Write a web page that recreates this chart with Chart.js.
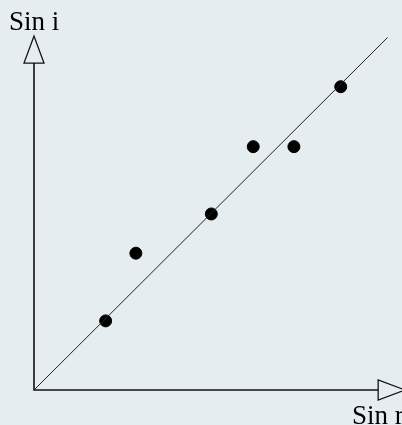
<!DOCTYPE html>
<html>
<head>
<meta charset="utf-8">
<script src="https://cdn.jsdelivr.net/npm/chart.js@4/dist/chart.umd.min.js"></script>
<style>
  html, body { margin: 0; padding: 0; background: #e6edf0; }
  #wrap { width: 402px; height: 425px; position: relative; }
</style>
</head>
<body>
<div id="wrap"><canvas id="c"></canvas></div>
<script>
// Measured pairs: sin r (horizontal) against sin i (vertical)
const sinR = [0.199, 0.283, 0.4925, 0.609, 0.722, 0.852];
const sinI = [0.192, 0.38, 0.489, 0.676, 0.676, 0.8425];

// Best-fit line through the origin
const fitX = [0, 0.982];
const fitY = [0, 0.979];

// Axis titles
const xTitle = 'Sin r';
const yTitle = 'Sin i';

// Where the axis arrows sit, in data units
const yArrowBase = 0.908, yArrowTip = 0.983;
const xArrowBase = 0.956, xArrowTip = 1.031;

const points = sinR.map((x, i) => ({ x, y: sinI[i] }));
const fitLine = fitX.map((x, i) => ({ x, y: fitY[i] }));

const axesPlugin = {
  id: 'arrowAxes',
  beforeDatasetsDraw(chart) {
    const { ctx, scales: { x, y } } = chart;
    const ox = x.getPixelForValue(0), oy = y.getPixelForValue(0);
    const yb = y.getPixelForValue(yArrowBase), yt = y.getPixelForValue(yArrowTip);
    const xb = x.getPixelForValue(xArrowBase), xt = x.getPixelForValue(xArrowTip);
    const half = 10;
    ctx.save();
    ctx.strokeStyle = '#111';
    ctx.lineWidth = 1.6;
    ctx.beginPath();
    ctx.moveTo(ox, yb);
    ctx.lineTo(ox, oy);
    ctx.lineTo(xb, oy);
    ctx.stroke();
    ctx.lineWidth = 1.3;
    ctx.lineJoin = 'miter';
    // vertical arrow head (open)
    ctx.beginPath();
    ctx.moveTo(ox - half, yb);
    ctx.lineTo(ox + half, yb);
    ctx.lineTo(ox, yt);
    ctx.closePath();
    ctx.stroke();
    // horizontal arrow head (open)
    ctx.beginPath();
    ctx.moveTo(xb, oy - half);
    ctx.lineTo(xb, oy + half);
    ctx.lineTo(xt, oy);
    ctx.closePath();
    ctx.stroke();
    // titles
    ctx.fillStyle = '#000';
    ctx.font = '27px "Liberation Serif", "Times New Roman", serif';
    ctx.textBaseline = 'alphabetic';
    ctx.textAlign = 'left';
    ctx.fillText(yTitle, 9, 30);
    ctx.fillText(xTitle, 352, 424);
    ctx.restore();
  }
};

new Chart(document.getElementById('c'), {
  type: 'scatter',
  data: {
    datasets: [
      {
        type: 'line',
        data: fitLine,
        borderColor: '#222',
        borderWidth: 1,
        pointRadius: 0,
        fill: false
      },
      {
        data: points,
        backgroundColor: '#000',
        borderColor: '#000',
        pointRadius: 6,
        pointHoverRadius: 6
      }
    ]
  },
  options: {
    responsive: true,
    maintainAspectRatio: false,
    animation: false,
    layout: { padding: { left: 34, right: 8, top: 30, bottom: 35 } },
    scales: {
      x: { type: 'linear', min: 0, max: 1, display: false },
      y: { type: 'linear', min: 0, max: 1, display: false }
    },
    plugins: { legend: { display: false }, tooltip: { enabled: false } }
  },
  plugins: [axesPlugin]
});
</script>
</body>
</html>
